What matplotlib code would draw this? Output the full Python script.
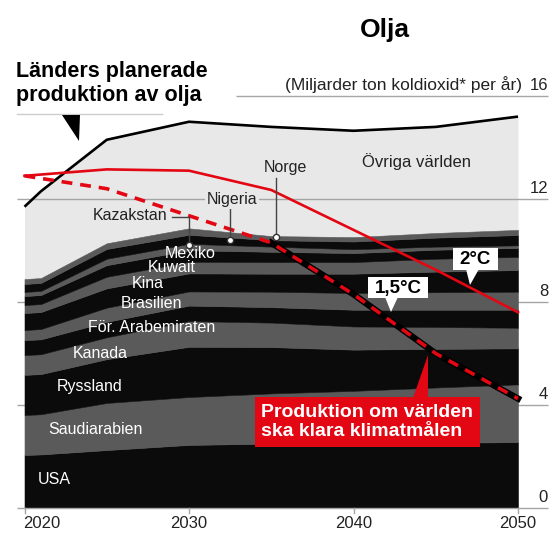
import numpy as np
import matplotlib.pyplot as plt
from matplotlib.patches import Polygon, Rectangle

plt.rcParams['font.family'] = ['Liberation Sans', 'DejaVu Sans']

# planned oil production, billion tonnes CO2 per year
years = [2020, 2021, 2025, 2030, 2035, 2040, 2045, 2050]

countries = ['USA', 'Saudiarabien', 'Ryssland', 'Kanada', 'För. Arabemiraten',
             'Brasilien', 'Kina', 'Kuwait', 'Mexiko', 'Kazakstan', 'Nigeria', 'Norge']

usa = [2.06, 2.08, 2.25, 2.45, 2.50, 2.50, 2.53, 2.56]
saudi = [1.55, 1.56, 1.83, 1.86, 1.95, 2.05, 2.15, 2.24]
russia = [1.56, 1.56, 1.70, 1.95, 1.80, 1.60, 1.50, 1.40]
canada = [0.77, 0.77, 0.85, 1.00, 0.95, 0.90, 0.85, 0.80]
uae = [0.58, 0.58, 0.60, 0.60, 0.60, 0.65, 0.67, 0.70]
brazil = [0.39, 0.40, 0.55, 0.55, 0.60, 0.65, 0.68, 0.70]
china = [0.66, 0.66, 0.75, 0.70, 0.70, 0.75, 0.80, 0.84]
kuwait = [0.31, 0.31, 0.45, 0.45, 0.45, 0.45, 0.50, 0.51]
mexico = [0.35, 0.35, 0.45, 0.45, 0.40, 0.35, 0.35, 0.35]
kazakhstan = [0.16, 0.16, 0.25, 0.25, 0.20, 0.15, 0.12, 0.10]
nigeria = [0.31, 0.31, 0.38, 0.35, 0.25, 0.30, 0.35, 0.40]
norway = [0.19, 0.19, 0.22, 0.25, 0.16, 0.17, 0.18, 0.20]

world_total = [11.7, 12.3, 14.3, 15.0, 14.8, 14.65, 14.8, 15.2]

path_2c = [12.9, 12.95, 13.15, 13.1, 12.35, 10.8, 9.25, 7.6]
path_15c = [12.9, 12.8, 12.4, 11.35, 10.3, 8.3, 6.0, 4.25]

y_ticks = [0, 4, 8, 12, 16]
x_ticks = [2020, 2030, 2040, 2050]

BLACK = '#0b0b0b'
GREY = '#5a5a5a'
LIGHT = '#e8e8e8'
RED = '#e30613'


def px(x, y):
    # pixel position in the 556x534 picture -> data coordinates
    return 2020 + (x - 24.5) / 16.45, (508 - y) / 25.75


def main():
    fig = plt.figure(figsize=(5.56, 5.34), dpi=100)
    ax = fig.add_axes([0, 0, 1, 1])
    ax.axis('off')
    x0, y0 = px(0, 534)
    x1, y1 = px(556, 0)
    ax.set_xlim(x0, x1)
    ax.set_ylim(y0, y1)

    layers = np.array([usa, saudi, russia, canada, uae, brazil, china,
                       kuwait, mexico, kazakhstan, nigeria, norway])
    cum = np.cumsum(layers, axis=0)

    # rest of the world
    ax.fill_between(years, cum[-1], world_total, color=LIGHT, lw=0, zorder=1)

    # grid lines
    gl, _ = px(17, 0)
    gr, _ = px(548, 0)
    g16, _ = px(236, 0)
    ax.hlines([4, 8, 12], gl, gr, color='#a5a5a5', lw=1, zorder=2)
    ax.hlines(16, g16, gr, color='#a5a5a5', lw=1, zorder=2)

    bottom = np.zeros(len(years))
    for i in range(len(countries)):
        c = BLACK if i % 2 == 0 else GREY
        ax.fill_between(years, bottom, cum[i], color=c, ec=c, lw=0.4, zorder=3)
        bottom = cum[i]

    ax.hlines(0, gl, gr, color='#a5a5a5', lw=1, zorder=4)
    for t in x_ticks:
        ax.plot([t, t], [0, -0.2], color='#a5a5a5', lw=1, zorder=4)
        ax.text(t if t != 2020 else t - 0.1, -0.62, str(t), ha='center' if t != 2020 else 'left',
                va='center', fontsize=12, color='#222222')
    for v in y_ticks:
        ax.text(gr, v + 0.12, str(v), ha='right', va='bottom', fontsize=12, color='#222222')
    ax.text(px(522, 0)[0], 16.12, '(Miljarder ton koldioxid* per år)', ha='right', va='bottom',
            fontsize=12.5, color='#222222')

    # total line and scenarios
    ax.plot(years, world_total, color='black', lw=1.9, zorder=6, solid_capstyle='butt')
    ax.plot(years, path_2c, color=RED, lw=1.9, zorder=7)
    ax.plot(years[4:], path_15c[4:], color='black', lw=4.6, zorder=7)
    ax.plot(years, path_15c, color=RED, lw=2.6, zorder=8, dashes=(3, 2.2))

    # country labels
    labels = {
        'USA': (54, 480), 'Saudiarabien': (95, 430), 'Ryssland': (90, 386),
        'Kanada': (100, 353), 'För. Arabemiraten': (152, 327), 'Brasilien': (151, 304),
        'Kina': (148, 284), 'Kuwait': (172, 268), 'Mexiko': (190, 253),
    }
    for name, (lx, ly) in labels.items():
        ax.text(*px(lx, ly), name, ha='center', va='center', fontsize=11.5,
                color='white', zorder=9)

    ax.text(*px(417, 162), 'Övriga världen', ha='center', va='center', fontsize=12,
            color='#222222', zorder=9)

    # leaders with small markers
    mk = dict(marker='o', ms=4.5, mfc='white', mec='#333333', mew=1, zorder=10)
    kaz_x = years[3]
    kaz_y = cum[9][3] - 0.04
    ax.plot([px(172, 0)[0], kaz_x, kaz_x], [px(0, 217)[1], px(0, 217)[1], kaz_y],
            color='#444444', lw=1, zorder=9)
    ax.plot(kaz_x, kaz_y, **mk)
    ax.text(*px(130, 216), 'Kazakstan', ha='center', va='center', fontsize=11.5,
            color='#222222', zorder=9)

    nig_x = px(230, 0)[0]
    nig_y = np.interp(nig_x, years, cum[10]) - 0.08
    ax.plot([nig_x, nig_x], [px(0, 208)[1], nig_y], color='#444444', lw=1, zorder=9)
    ax.plot(nig_x, nig_y, **mk)
    ax.text(*px(232, 200), 'Nigeria', ha='center', va='center', fontsize=11.5,
            color='#222222', zorder=9,
            bbox=dict(boxstyle='square,pad=0.1', fc=LIGHT, ec='none'))

    nor_x = px(276, 0)[0]
    nor_y = np.interp(nor_x, years, cum[11]) - 0.05
    ax.plot([nor_x, nor_x], [px(0, 178)[1], nor_y], color='#444444', lw=1, zorder=9)
    ax.plot(nor_x, nor_y, **mk)
    ax.text(*px(285, 168), 'Norge', ha='center', va='center', fontsize=11.5,
            color='#222222', zorder=9)

    # scenario boxes
    def box(x_a, y_a, x_b, y_b, fc):
        (ax_, ay_), (bx_, by_) = px(x_a, y_b), px(x_b, y_a)
        ax.add_patch(Rectangle((ax_, ay_), bx_ - ax_, by_ - ay_, fc=fc, ec='none', zorder=11))

    def tri(points, fc):
        ax.add_patch(Polygon([px(a, b) for a, b in points], closed=True, fc=fc,
                             ec='none', zorder=11))

    box(453, 248, 498, 270, 'white')
    tri([(466, 269), (479, 269), (470, 285)], 'white')
    ax.text(*px(475.5, 259.5), '2°C', ha='center', va='center', fontsize=13.5,
            fontweight='bold', color='black', zorder=12)

    box(368, 277, 428, 298, 'white')
    tri([(385, 297), (398, 297), (391, 312)], 'white')
    ax.text(*px(398, 288), '1,5°C', ha='center', va='center', fontsize=13.5,
            fontweight='bold', color='black', zorder=12)

    box(255, 397, 480, 447, RED)
    tri([(413, 398), (428, 398), (428, 355)], RED)
    ax.text(*px(261, 422), 'Produktion om världen\nska klara klimatmålen', ha='left',
            va='center', fontsize=14, fontweight='bold', color='white',
            linespacing=1.15, zorder=12)

    # headings
    ax.text(*px(385, 30), 'Olja', ha='center', va='center', fontsize=19,
            fontweight='bold', color='black')
    ax.text(*px(16, 61), 'Länders planerade\nproduktion av olja', ha='left', va='top',
            fontsize=15.5, fontweight='bold', color='black', linespacing=1.2)
    ax.plot([px(17, 0)[0], px(162, 0)[0]], [px(0, 114)[1]] * 2, color='#cccccc', lw=1)
    tri([(62, 115), (80, 115), (79, 141)], 'black')

    fig.savefig('out.png', dpi=100)


if __name__ == '__main__':
    main()
